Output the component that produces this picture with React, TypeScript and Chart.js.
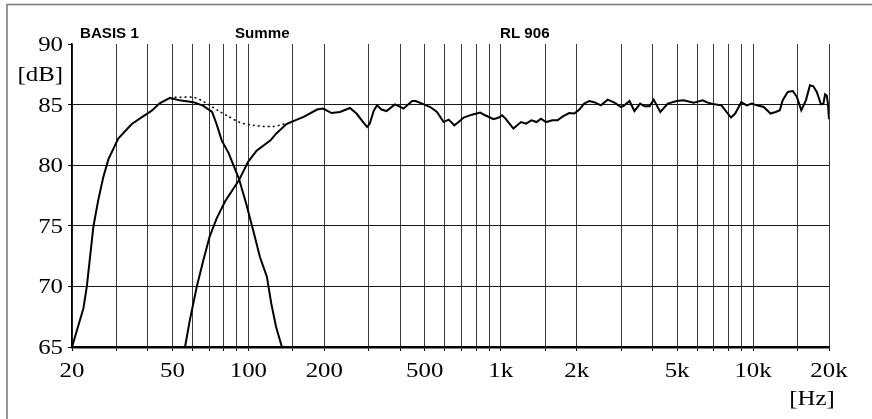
import React, { useEffect, useRef } from "react";
import { Chart, registerables } from "chart.js";

Chart.register(...registerables);

// Frequency grid (Hz) and labelled ticks
const gridFreqs = [20, 30, 40, 50, 60, 70, 80, 90, 100, 150, 200, 300, 400, 500, 600, 700, 800, 900, 1000, 1500, 2000, 3000, 4000, 5000, 6000, 7000, 8000, 9000, 10000, 15000, 20000];
const xLabelValues = [20, 50, 100, 200, 500, 1000, 2000, 5000, 10000, 20000];
const xLabelTexts = ["20", "50", "100", "200", "500", "1k", "2k", "5k", "10k", "20k"];
const yTickValues = [65, 70, 75, 80, 85, 90];
const yTickTexts = ["65", "70", "75", "80", "85", "90"];

// BASIS 1 (subwoofer)
const subFreq = [20, 22.2, 22.9, 24.3, 25.4, 26.6, 27.9, 30.5, 34.5, 41.4, 44.5, 48.9, 53.4, 60.6, 66.3, 71.8, 74.8, 78.4, 83.5, 91.7, 98.1, 104.6, 111.2, 118.4, 123.2, 128.8, 135.8];
const subDb = [65, 68.2, 70.0, 74.9, 77.1, 79.0, 80.5, 82.2, 83.4, 84.5, 85.1, 85.55, 85.35, 85.2, 84.9, 84.4, 83.4, 82.05, 81.0, 78.9, 76.8, 74.6, 72.4, 70.8, 68.6, 66.65, 65.0];

// RL 906 (main monitor)
const mainFreq = [
  56.1, 58.6, 62.4, 66.3, 70.2, 74.8, 80.8, 91.7, 99.9, 107.8,
  122.4, 128.8, 141.5, 149, 165.6, 187.2, 197.8, 213.6, 230.6, 252.6,
  268.3, 284.9, 295.4, 302.8, 314, 323.5, 337, 352.6, 380.7, 396.5,
  412, 445.9, 460, 496, 526, 559, 594, 622, 655, 681,
  713, 769, 829, 868, 937, 982, 1013, 1045, 1123, 1203,
  1261, 1323, 1387, 1444, 1513, 1603, 1680, 1762, 1868, 1959,
  2050, 2143, 2243, 2347, 2495, 2655, 2822, 3000, 3093, 3238,
  3387, 3570, 3716, 3890, 4040, 4290, 4595, 4981, 5300, 5823,
  6310, 6614, 7037, 7495, 7855, 8180, 8497, 8983, 9442, 9889,
  10360, 11023, 11730, 12300, 12770, 13100, 13720, 14380, 14920, 15530,
  16200, 16810, 17340, 17890, 18580, 19000, 19300, 19600, 19800, 20000,
];
const mainDb = [
  65, 67.2, 69.95, 72.15, 74.1, 75.6, 77.0, 78.75, 80.3, 81.2,
  82.05, 82.6, 83.4, 83.6, 83.98, 84.59, 84.67, 84.3, 84.39, 84.72,
  84.26, 83.56, 83.15, 83.43, 84.5, 84.94, 84.59, 84.47, 85.02, 84.86,
  84.67, 85.3, 85.3, 85.02, 84.8, 84.39, 83.56, 83.76, 83.29, 83.56,
  83.93, 84.17, 84.34, 84.12, 83.79, 83.93, 84.12, 83.84, 83.02, 83.56,
  83.43, 83.7, 83.56, 83.84, 83.56, 83.7, 83.7, 84.03, 84.3, 84.26,
  84.6, 85.08, 85.3, 85.2, 84.94, 85.41, 85.16, 84.8, 84.94, 85.3,
  84.47, 85.08, 84.86, 84.86, 85.41, 84.39, 85.08, 85.3, 85.35, 85.16,
  85.35, 85.16, 85.02, 84.94, 84.39, 83.93, 84.26, 85.2, 84.94, 85.08,
  84.94, 84.8, 84.26, 84.39, 84.53, 85.35, 86.04, 86.12, 85.63, 84.53,
  85.35, 86.59, 86.51, 86.04, 85.02, 85.08, 85.85, 85.75, 85.1, 83.8,
];

// Summe (dotted)
const sumFreq = [51, 53.4, 60.6, 65, 70.2, 76, 82, 93.3, 104.6, 115, 126.3, 133, 139.3];
const sumDb = [85.6, 85.6, 85.6, 85.35, 84.95, 84.5, 84.1, 83.5, 83.3, 83.2, 83.2, 83.3, 83.4];

const titles = ["BASIS 1", "Summe", "RL 906"];

const zip = (xs: number[], ys: number[]) => xs.map((x, i) => ({ x, y: ys[i] }));

const SERIF = '22px "Liberation Serif", "Times New Roman", serif';
const SANS_BOLD = 'bold 14px "Liberation Sans", Arial, sans-serif';

function drawStretched(ctx: CanvasRenderingContext2D, text: string, x: number, y: number, font: string, align: CanvasTextAlign, sx: number) {
  ctx.save();
  ctx.translate(x, y);
  ctx.scale(sx, 1);
  ctx.font = font;
  ctx.fillStyle = "#000";
  ctx.textAlign = align;
  ctx.textBaseline = "alphabetic";
  ctx.fillText(text, 0, 0);
  ctx.restore();
}

const textPlugin = {
  id: "textPlugin",
  beforeDraw(chart: any) {
    const ctx = chart.ctx as CanvasRenderingContext2D;
    ctx.save();
    ctx.strokeStyle = "#777";
    ctx.lineWidth = 1.5;
    ctx.beginPath();
    ctx.moveTo(7, 419);
    ctx.lineTo(7, 4.5);
    ctx.lineTo(872, 4.5);
    ctx.stroke();
    ctx.restore();
  },
  afterDraw(chart: any) {
    const ctx = chart.ctx as CanvasRenderingContext2D;
    const xs = chart.scales.x;
    const ys = chart.scales.y;
    const area = chart.chartArea;
    yTickValues.forEach((v, i) => {
      drawStretched(ctx, yTickTexts[i], area.left - 9, ys.getPixelForValue(v) + 7, SERIF, "right", 1.13);
    });
    drawStretched(ctx, "[dB]", area.left - 9, (ys.getPixelForValue(90) + ys.getPixelForValue(85)) / 2 + 7, SERIF, "right", 1.13);
    xLabelValues.forEach((v, i) => {
      drawStretched(ctx, xLabelTexts[i], xs.getPixelForValue(v), area.bottom + 30, SERIF, "center", 1.13);
    });
    drawStretched(ctx, "[Hz]", xs.getPixelForValue(20000) - 17, area.bottom + 58, SERIF, "center", 1.13);
    const titleX = [80, 235, 500];
    titles.forEach((t, i) => {
      drawStretched(ctx, t, titleX[i], area.top - 6, SANS_BOLD, "left", 1.08);
    });
  },
};

export default function App() {
  const ref = useRef<HTMLCanvasElement | null>(null);
  useEffect(() => {
    if (!ref.current) return;
    const chart = new Chart(ref.current, {
      type: "line",
      data: {
        datasets: [
          {
            label: "BASIS 1",
            data: zip(subFreq, subDb),
            borderColor: "#000",
            borderWidth: 2,
            pointRadius: 0,
            tension: 0,
          },
          {
            label: "RL 906",
            data: zip(mainFreq, mainDb),
            borderColor: "#000",
            borderWidth: 2,
            pointRadius: 0,
            tension: 0,
          },
          {
            label: "Summe",
            data: zip(sumFreq, sumDb),
            borderColor: "#000",
            borderWidth: 1.5,
            borderDash: [2, 3],
            pointRadius: 0,
            tension: 0.3,
          },
        ],
      },
      options: {
        animation: false,
        responsive: true,
        maintainAspectRatio: false,
        layout: { padding: { top: 44, right: 43, left: 0, bottom: 0 } },
        plugins: { legend: { display: false }, tooltip: { enabled: false } },
        scales: {
          x: {
            type: "logarithmic",
            min: 20,
            max: 20000,
            afterBuildTicks: (scale: any) => {
              scale.ticks = gridFreqs.map((v) => ({ value: v }));
            },
            afterFit: (scale: any) => {
              scale.height = 72;
            },
            ticks: { display: false },
            grid: { color: "#3c3c3c", lineWidth: 1, tickLength: 4, tickColor: "#000", tickWidth: 1 },
            border: { display: true, color: "#000", width: 2.5 },
          },
          y: {
            type: "linear",
            min: 65,
            max: 90,
            afterBuildTicks: (scale: any) => {
              scale.ticks = yTickValues.map((v) => ({ value: v }));
            },
            afterFit: (scale: any) => {
              scale.width = 72;
            },
            ticks: { display: false },
            grid: {
              color: (c: any) => (c.tick && c.tick.value === 90 ? "rgba(0,0,0,0)" : "#1a1a1a"),
              lineWidth: 1,
              tickLength: 4,
              tickColor: "#000",
              tickWidth: 1,
            },
            border: { display: true, color: "#000", width: 1.5 },
          },
        },
      },
      plugins: [textPlugin],
    });
    return () => chart.destroy();
  }, []);
  return (
    <div style={{ position: "fixed", left: 0, top: 0, width: 872, height: 419, background: "#fff" }}>
      <canvas ref={ref} />
    </div>
  );
}
